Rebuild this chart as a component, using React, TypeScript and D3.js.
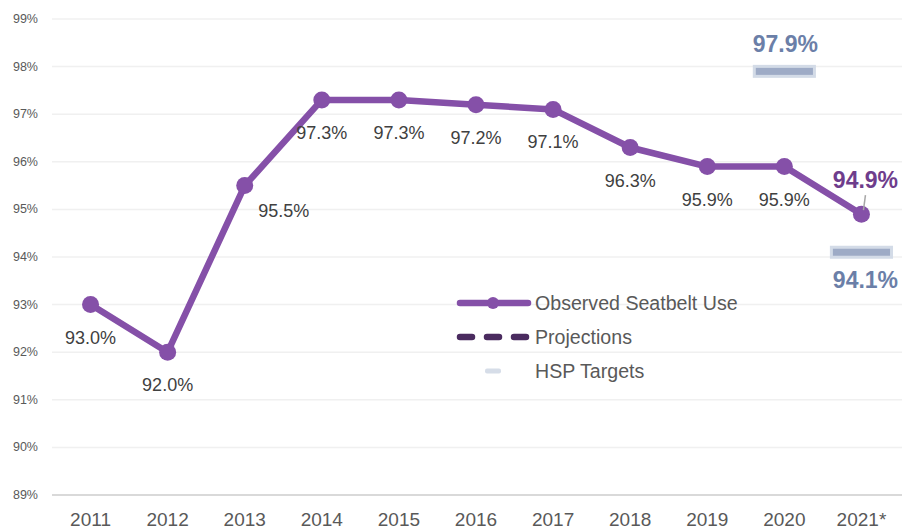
import * as d3 from 'd3';
import { useEffect, useRef } from 'react';

const years = ['2011', '2012', '2013', '2014', '2015', '2016', '2017', '2018', '2019', '2020', '2021*'];
const observed = [93.0, 92.0, 95.5, 97.3, 97.3, 97.2, 97.1, 96.3, 95.9, 95.9, 94.9];
const targetYears = ['2020', '2021*'];
const targets = [97.9, 94.1];
const yTicks = [89, 90, 91, 92, 93, 94, 95, 96, 97, 98, 99];

export default function App() {
    const chartRef = useRef<SVGSVGElement | null>(null);

    useEffect(() => {
        if (!chartRef.current) return;
        d3.select(chartRef.current).selectAll('*').remove();

        const svg = d3.select(chartRef.current);
        const width = 902;
        const height = 531;
        const margin = { top: 19, right: 2, bottom: 36, left: 52 };
        const font = "'Liberation Sans', Arial, sans-serif";
        const purple = '#8550a8';

        const x = d3
            .scaleBand()
            .domain(years)
            .range([margin.left, width - margin.right]);
        const cx = (d: string) => x(d)! + x.bandwidth() / 2;

        const y = d3
            .scaleLinear()
            .domain([89, 99])
            .range([height - margin.bottom, margin.top]);

        // 格線
        svg.append('g')
            .selectAll('line')
            .data(yTicks)
            .join('line')
            .attr('x1', margin.left)
            .attr('x2', width)
            .attr('y1', (d) => y(d))
            .attr('y2', (d) => y(d))
            .attr('stroke', (d) => (d === 89 ? '#d9d9d9' : '#f0f0f0'))
            .attr('stroke-width', (d) => (d === 89 ? 2 : 1.5));

        // Y 軸
        svg.append('g')
            .selectAll('text')
            .data(yTicks)
            .join('text')
            .attr('x', 38)
            .attr('y', (d) => y(d) + 4)
            .attr('text-anchor', 'end')
            .attr('font-family', font)
            .attr('font-size', 12.5)
            .attr('fill', '#595959')
            .text((d) => `${d}%`);

        // X 軸
        svg.append('g')
            .selectAll('text')
            .data(years)
            .join('text')
            .attr('x', (d) => cx(d))
            .attr('y', 526)
            .attr('text-anchor', 'middle')
            .attr('font-family', font)
            .attr('font-size', 19)
            .attr('fill', '#595959')
            .text((d) => d);

        // HSP 目標
        const tw = x.bandwidth() * 0.78;
        svg.append('g')
            .selectAll('rect')
            .data(targets)
            .join('rect')
            .attr('x', (_, i) => cx(targetYears[i]) - tw / 2)
            .attr('y', (d) => y(d) - 5)
            .attr('width', tw)
            .attr('height', 10)
            .attr('fill', '#9eabc6')
            .attr('stroke', '#d3dbe7')
            .attr('stroke-width', 3);

        svg.append('g')
            .selectAll('text')
            .data(targets)
            .join('text')
            .attr('x', (_, i) => cx(targetYears[i]) + (i === 1 ? 4 : 1))
            .attr('y', (d, i) => (i === 0 ? y(d) - 19 : y(d) + 36))
            .attr('text-anchor', 'middle')
            .attr('font-family', font)
            .attr('font-size', 23)
            .attr('font-weight', 'bold')
            .attr('fill', '#6b7fa8')
            .text((d) => `${d.toFixed(1)}%`);

        // 觀察值折線
        const line = d3
            .line<number>()
            .x((_, i) => cx(years[i]))
            .y((d) => y(d));

        svg.append('path')
            .datum(observed)
            .attr('d', line)
            .attr('fill', 'none')
            .attr('stroke', purple)
            .attr('stroke-width', 6.5)
            .attr('stroke-linejoin', 'round');

        svg.append('g')
            .selectAll('circle')
            .data(observed)
            .join('circle')
            .attr('cx', (_, i) => cx(years[i]))
            .attr('cy', (d) => y(d))
            .attr('r', 8.5)
            .attr('fill', purple);

        // 資料標籤
        const last = observed.length - 1;
        svg.append('g')
            .selectAll('text')
            .data(observed.slice(0, last))
            .join('text')
            .attr('x', (_, i) => cx(years[i]) + (i === 2 ? 39 : 0))
            .attr('y', (d, i) => y(d) + (i === 2 ? 31 : 39))
            .attr('text-anchor', 'middle')
            .attr('font-family', font)
            .attr('font-size', 18)
            .attr('fill', '#404040')
            .text((d) => `${d.toFixed(1)}%`);

        // 2021 標籤與引線
        const lx = cx(years[last]);
        const ly = y(observed[last]);
        svg.append('line')
            .attr('x1', lx + 2)
            .attr('y1', ly - 4)
            .attr('x2', lx + 4)
            .attr('y2', ly - 19)
            .attr('stroke', '#a6a6a6')
            .attr('stroke-width', 1.5);
        svg.append('text')
            .attr('x', lx + 4)
            .attr('y', ly - 26)
            .attr('text-anchor', 'middle')
            .attr('font-family', font)
            .attr('font-size', 23)
            .attr('font-weight', 'bold')
            .attr('fill', '#6e3d8c')
            .text(`${observed[last].toFixed(1)}%`);

        // 圖例
        const lg = svg.append('g').attr('font-family', font).attr('font-size', 19.6).attr('fill', '#595959');
        lg.append('line')
            .attr('x1', 460)
            .attr('x2', 528)
            .attr('y1', 303)
            .attr('y2', 303)
            .attr('stroke', purple)
            .attr('stroke-width', 6.5)
            .attr('stroke-linecap', 'round');
        lg.append('circle').attr('cx', 493).attr('cy', 303).attr('r', 6).attr('fill', purple);
        lg.append('text').attr('x', 535).attr('y', 310).text('Observed Seatbelt Use');

        lg.append('line')
            .attr('x1', 460)
            .attr('x2', 528)
            .attr('y1', 337)
            .attr('y2', 337)
            .attr('stroke', '#4a2b5f')
            .attr('stroke-width', 6.5)
            .attr('stroke-linecap', 'round')
            .attr('stroke-dasharray', '12 15');
        lg.append('text').attr('x', 535).attr('y', 344).text('Projections');

        lg.append('rect')
            .attr('x', 485)
            .attr('y', 368.5)
            .attr('width', 16)
            .attr('height', 5)
            .attr('rx', 2)
            .attr('fill', '#d6dde8');
        lg.append('text').attr('x', 535).attr('y', 378).text('HSP Targets');
    }, []);

    return (
        <svg
            ref={chartRef}
            width={902}
            height={531}
            style={{ position: 'absolute', left: 0, top: 0, background: '#fff' }}
        />
    );
}
